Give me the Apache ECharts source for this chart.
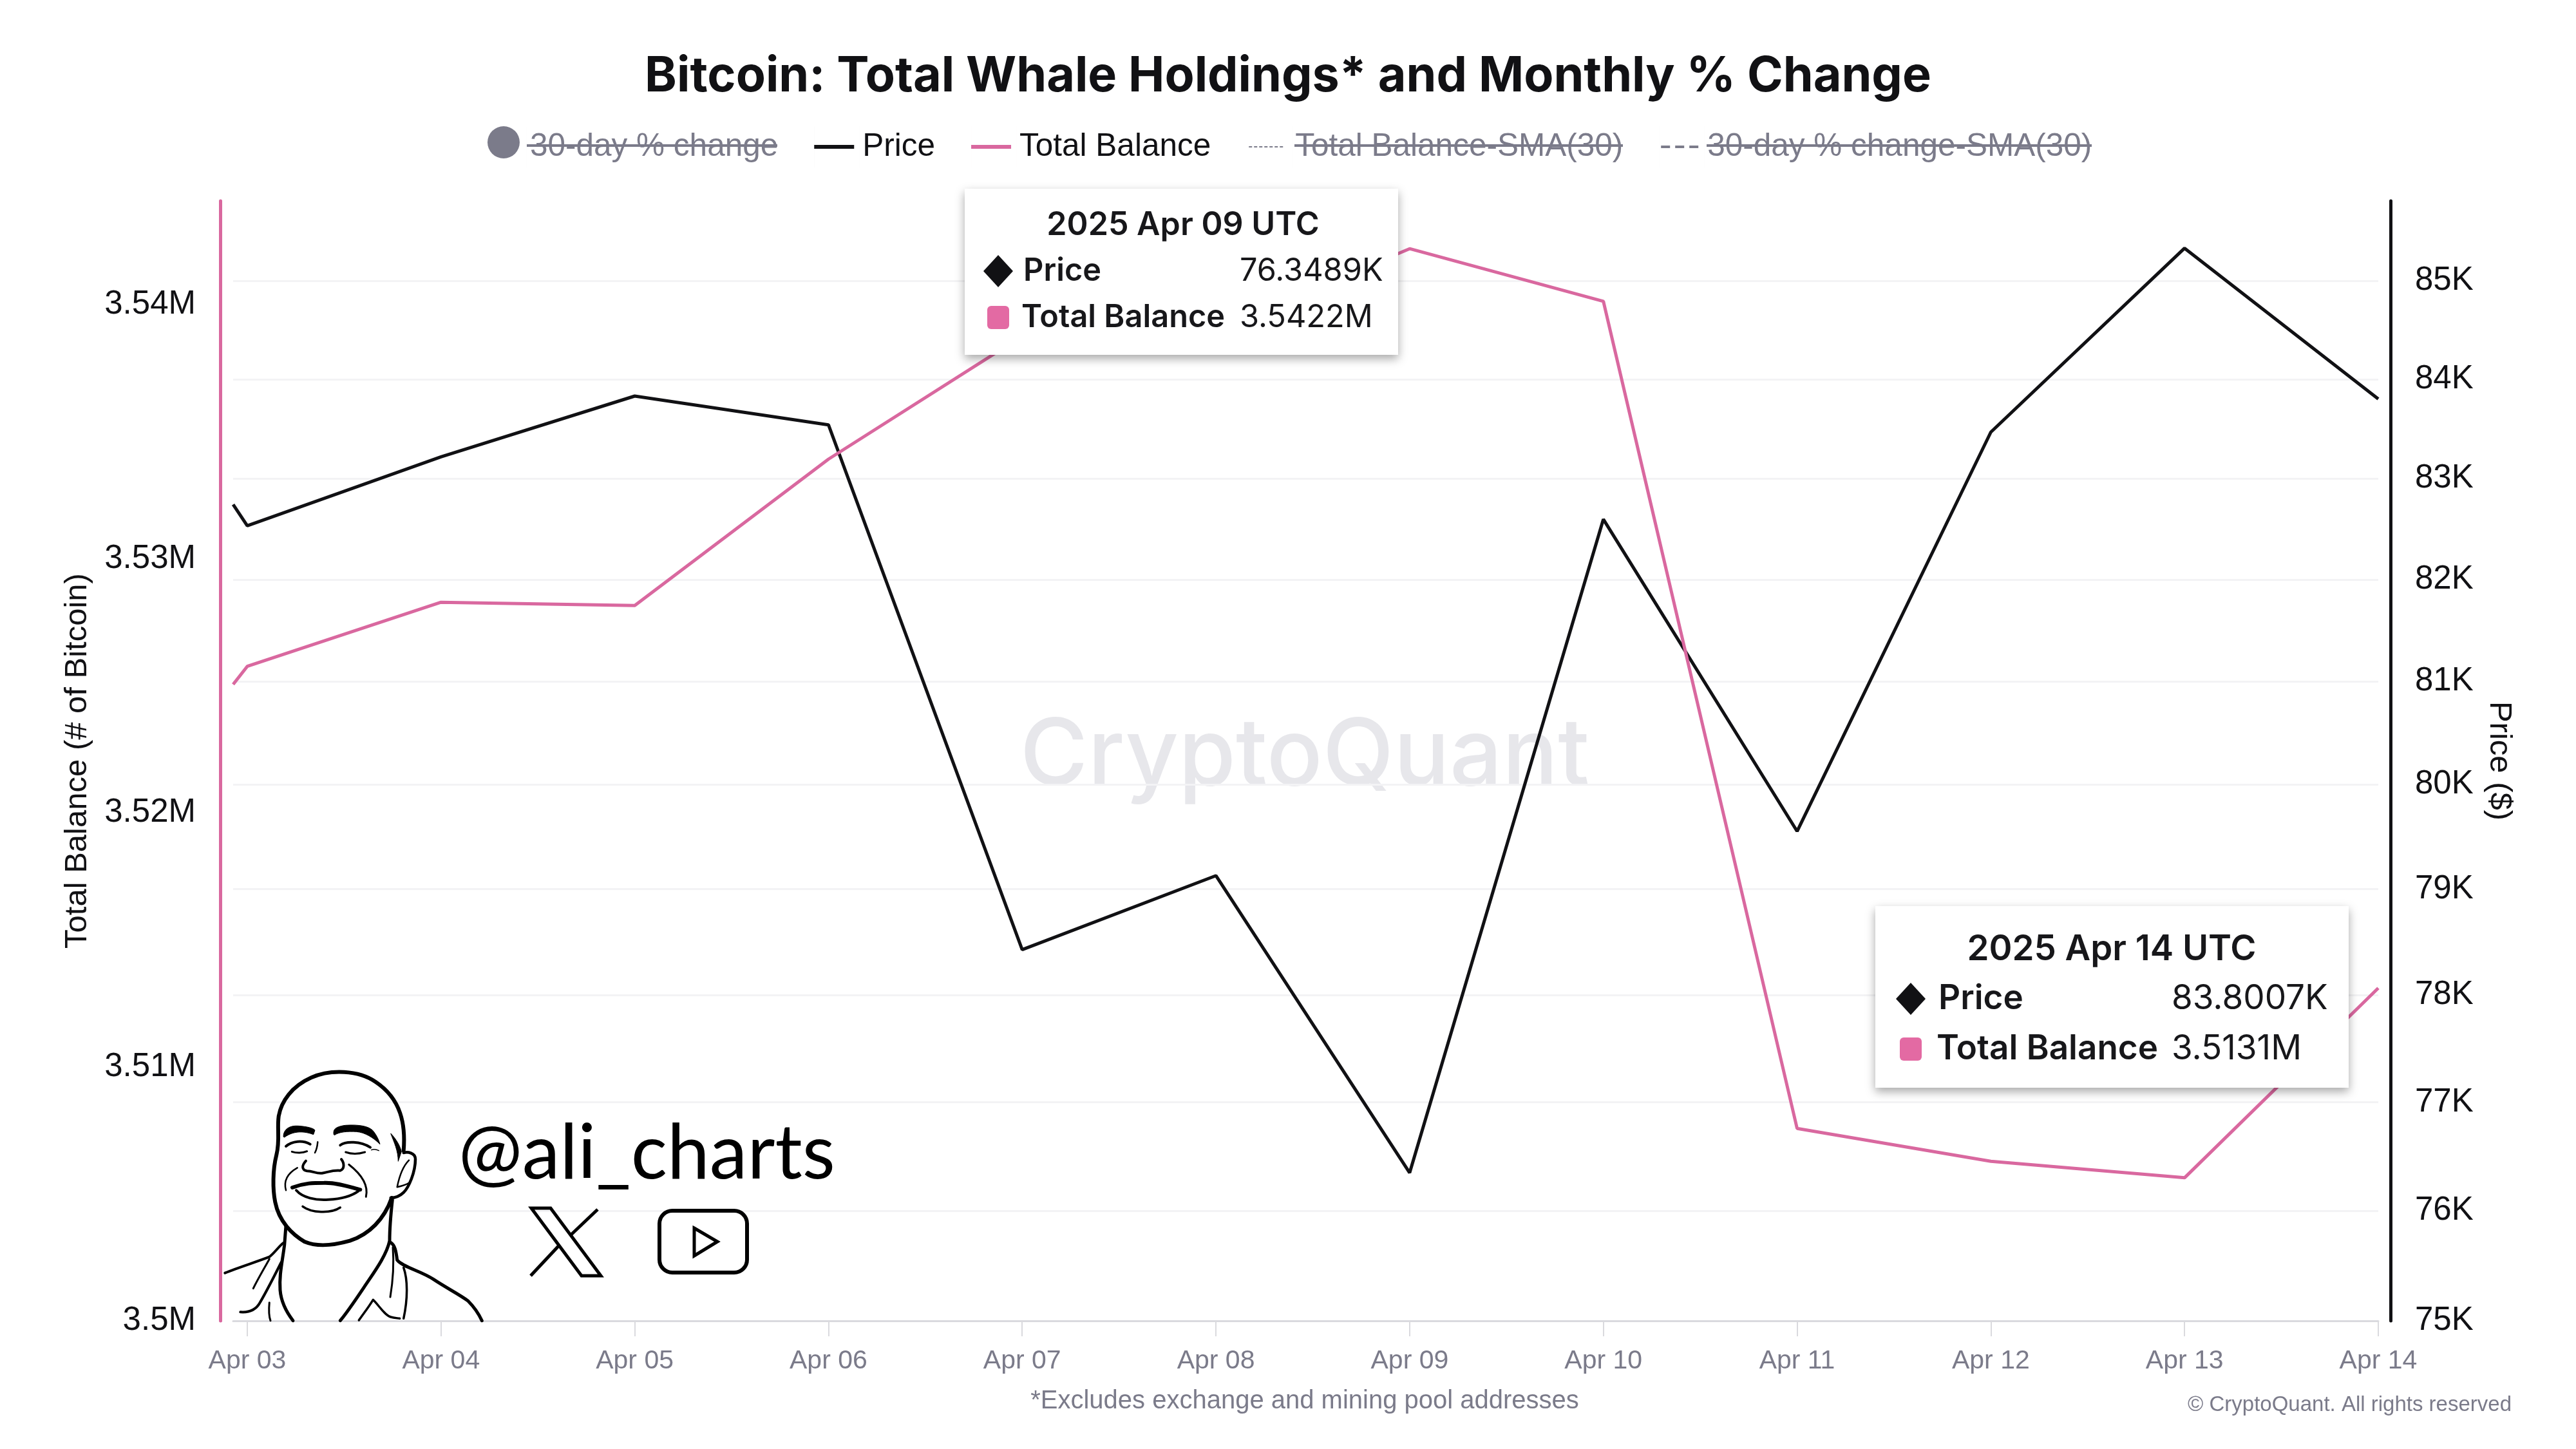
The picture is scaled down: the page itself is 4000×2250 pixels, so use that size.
<!DOCTYPE html>
<html>
<head>
<meta charset="utf-8">
<title>Bitcoin: Total Whale Holdings</title>
<style>
    html, body { margin: 0; padding: 0; background: #fff; }
    #chart { width: 4000px; height: 2250px; }
</style>
<script src="https://cdn.jsdelivr.net/npm/echarts@6/dist/echarts.min.js"></script>
</head>
<body>
<div id="chart"></div>
<script>
// data, x is days since Apr 03, first point is the partial one left of the Apr 03 tick
var days = [-0.073, 0, 1, 2, 3, 4, 5, 6, 7, 8, 9, 10, 11];
var price = [82743, 82531, 83219, 83830, 83540, 78427, 79128, 76348.9, 82596, 79552, 83467, 85335, 83800.7];
var totalBalance = [3525049, 3525761, 3528285, 3528155, 3533916, 3538760, 3539000, 3542200, 3540129, 3507573, 3506278, 3505631, 3513100];

var dayTicks = [0, 1, 2, 3, 4, 5, 6, 7, 8, 9, 10, 11];
var dayLabels = ['Apr 03', 'Apr 04', 'Apr 05', 'Apr 06', 'Apr 07', 'Apr 08', 'Apr 09', 'Apr 10', 'Apr 11', 'Apr 12', 'Apr 13', 'Apr 14'];
var balanceTicks = [3500000, 3510000, 3520000, 3530000, 3540000];
var priceTicks = [75000, 76000, 77000, 78000, 79000, 80000, 81000, 82000, 83000, 84000, 85000];

var SANS = '"Liberation Sans", Arial, sans-serif';
var PINK = '#d9689f';
var BLACK = '#111114';
var GREY = '#7b7b8a';

// legend icons sit in a 70x64 box, the last sub path only stretches the box
var ICON_BOX = ' M0 0H0.01V64H0Z M70 0H70.01V64H70Z';
var ICON_SOLID = 'path://M0 29H62V35H0Z' + ICON_BOX;
var ICON_DOT = 'path://M3 31H8V33H3Z M11 31H16V33H11Z M19 31H24V33H19Z M27 31H32V33H27Z M35 31H40V33H35Z M43 31H48V33H43Z M51 31H56V33H51Z' + ICON_BOX;
var ICON_DASH = 'path://M3 30H17V34H3Z M25 30H39V34H25Z M47 30H61V34H47Z' + ICON_BOX;
var ICON_CIRCLE = 'path://M9 25 A25 25 0 1 1 59 25 A25 25 0 1 1 9 25 Z' + ICON_BOX;

function pairs(values) {
    return days.map(function (d, i) { return [d, values[i]]; });
}

function fromCrop(d) {
    var i = 0;
    return d.replace(/\d+(\.\d+)?/g, function (n) {
        i++;
        return i % 2 ? (340 + n / 3).toFixed(1) : (1640 + n / 3).toFixed(1);
    });
}

// the graphic component has no plain path type, so each stroke gets its own shape class
var inkCount = 0;
function inkShape(d) {
    var name = 'ink' + (inkCount++);
    echarts.graphic.registerShape(name, echarts.graphic.extendPath(fromCrop(d), {}));
    return name;
}

function inkLine(d, width) {
    return { type: inkShape(d), z: 20, style: { fill: null, stroke: '#000', lineWidth: width, lineCap: 'round', lineJoin: 'round' } };
}

function inkFill(d) {
    return { type: inkShape(d), z: 20, style: { fill: '#000', stroke: '#000', lineWidth: 1 } };
}

var face = [
    inkLine('M 860 440 C 870 320 850 200 730 120 C 650 65 520 60 430 100 C 340 140 290 210 278 280 C 270 340 285 390 268 460 C 250 530 250 620 262 680 C 280 770 340 830 400 865 C 460 890 540 880 610 860 C 700 830 770 760 805 660', 6),
    inkFill('M 300 375 C 300 340 330 322 370 325 C 410 328 440 335 447 345 L 440 365 C 400 350 350 345 305 378 Z'),
    inkFill('M 535 365 C 530 340 545 328 590 322 C 650 318 700 325 720 350 C 735 370 745 390 750 410 C 720 380 680 355 640 352 C 600 350 560 352 538 368 Z'),
    inkLine('M 312 420 C 340 395 390 390 425 410', 4),
    inkLine('M 340 445 C 360 452 390 452 410 443', 3),
    inkLine('M 565 415 C 590 395 660 395 705 425', 4),
    inkLine('M 590 447 C 615 456 650 456 680 447', 3),
    inkLine('M 710 437 C 720 432 735 435 745 440', 1.5),
    inkLine('M 460 400 C 458 420 455 435 447 450', 2.5),
    inkLine('M 405 488 C 385 510 385 530 410 535 C 440 535 450 548 480 545 C 510 540 530 530 565 533 C 585 525 585 500 570 480', 4),
    inkLine('M 365 520 C 320 545 300 580 312 625', 2.5),
    inkLine('M 605 505 C 650 540 700 590 685 655', 3),
    inkLine('M 342 612 C 400 590 440 590 490 590 C 550 588 610 610 658 622', 6),
    inkLine('M 360 625 C 390 660 450 672 510 668 C 570 665 620 650 650 628', 4),
    inkLine('M 390 700 C 430 730 520 735 565 705', 3.5),
    inkLine('M 860 450 C 880 445 915 450 915 480 C 915 540 885 610 860 635 C 840 655 815 660 800 660', 4.5),
    inkLine('M 885 485 C 860 510 840 560 830 610 C 850 605 870 600 885 590', 2.5),
    inkFill('M 800 360 C 825 385 845 420 850 445 L 835 490 C 835 440 815 400 800 360 Z'),
    inkLine('M 312 790 L 305 880 C 295 960 280 1020 285 1090 C 290 1150 320 1200 345 1232', 5),
    inkLine('M 808 670 C 800 740 795 800 795 860 C 780 930 720 1010 680 1070 C 640 1130 600 1190 565 1232', 5),
    inkLine('M 28 1010 C 90 985 170 960 235 935 C 260 915 280 885 300 870', 4),
    inkLine('M 235 945 C 210 990 180 1040 160 1082', 3),
    inkLine('M 290 960 C 260 1020 225 1090 190 1150 C 170 1185 140 1195 100 1192', 4),
    inkLine('M 235 1148 C 232 1180 232 1210 240 1232', 3),
    inkLine('M 800 868 C 820 880 825 910 830 950 C 860 985 940 1000 1000 1040 C 1060 1080 1120 1110 1160 1140 C 1190 1170 1210 1200 1225 1232', 5),
    inkLine('M 810 890 C 815 960 810 1050 798 1122', 3),
    inkLine('M 860 985 C 880 1040 880 1130 860 1222', 3.5),
    inkLine('M 652 1230 C 680 1190 700 1165 718 1135 C 745 1160 770 1205 800 1215 C 815 1220 830 1220 842 1222', 3.5)
];

var socialIcons = [
    { type: 'polygon', z: 20, shape: { points: [[825, 1876], [855, 1876], [933, 1981], [903, 1981]] }, style: { fill: null, stroke: '#000', lineWidth: 5 } },
    { type: 'line', z: 20, shape: { x1: 928, y1: 1878, x2: 887, y2: 1917 }, style: { stroke: '#000', lineWidth: 5 } },
    { type: 'line', z: 20, shape: { x1: 868, y1: 1934, x2: 824, y2: 1981 }, style: { stroke: '#000', lineWidth: 5 } },
    { type: 'rect', z: 20, shape: { x: 1024, y: 1880, width: 136, height: 96, r: 20 }, style: { fill: null, stroke: '#000', lineWidth: 6 } },
    { type: 'polygon', z: 20, shape: { points: [[1078, 1907], [1114, 1928], [1078, 1950]] }, style: { fill: null, stroke: '#000', lineWidth: 5 } }
];

function tipText(text, x, y, font, align) {
    return { type: 'text', z: 101, x: x, y: y, style: { text: text, font: font, fill: '#17171a', textAlign: align || 'left', textVerticalAlign: 'middle' } };
}

// the two pinned tooltips of the original
function pinnedTip(index, title, box, size, pos) {
    var head = '600 ' + (size * 1.03) + 'px Inter, sans-serif';
    var bold = '600 ' + size + 'px Inter, sans-serif';
    var regular = '400 ' + size + 'px Inter, sans-serif';
    return [
        { type: 'rect', z: 100, shape: { x: box.x, y: box.y, width: box.w, height: box.h }, style: { fill: '#fff', shadowBlur: 14, shadowColor: 'rgba(0,0,0,0.35)', shadowOffsetY: 6 } },
        tipText(title, pos.titleX, pos.titleY, head, 'center'),
        { type: 'polygon', z: 101, shape: { points: [[pos.markX, pos.priceY - 25], [pos.markX + 23, pos.priceY], [pos.markX, pos.priceY + 25], [pos.markX - 23, pos.priceY]] }, style: { fill: BLACK } },
        tipText('Price', pos.labelX, pos.priceY, bold),
        tipText((price[index] / 1000).toFixed(4) + 'K', pos.valueX, pos.priceY, regular),
        { type: 'rect', z: 101, shape: { x: pos.markX - 17, y: pos.balanceY - 18, width: 34, height: 36, r: 6 }, style: { fill: '#e36aa3' } },
        tipText('Total Balance', pos.labelX - 3, pos.balanceY, bold),
        tipText((totalBalance[index] / 1000000).toFixed(4) + 'M', pos.valueX, pos.balanceY, regular)
    ];
}

function strike(x1, x2) {
    return { type: 'line', z: 30, shape: { x1: x1, y1: 226, x2: x2, y2: 226 }, style: { stroke: GREY, lineWidth: 4 } };
}

var overlays = [
    { type: 'text', z: 0, x: 2026, y: 1176, style: { text: 'CryptoQuant', font: '500 144px Inter, sans-serif', fill: '#e7e7eb', textAlign: 'center', textVerticalAlign: 'middle' } },
    { type: 'text', z: 20, x: 712, y: 1792, style: { text: '@ali_charts', font: '400 118px Lato, sans-serif', fill: '#000', textAlign: 'left', textVerticalAlign: 'middle' } },
    strike(818, 1207),
    strike(2010, 2520),
    strike(2650, 3248),
    { type: 'text', x: 2026, y: 2176, style: { text: '*Excludes exchange and mining pool addresses', font: '40px ' + SANS, fill: GREY, textAlign: 'center', textVerticalAlign: 'middle' } },
    { type: 'text', x: 3900, y: 2182, style: { text: '© CryptoQuant. All rights reserved', font: '33px ' + SANS, fill: GREY, textAlign: 'right', textVerticalAlign: 'middle' } }
].concat(face, socialIcons,
    pinnedTip(7, '2025 Apr 09 UTC', { x: 1498, y: 293, w: 673, h: 258 }, 48.7,
        { titleX: 1837, titleY: 350, markX: 1550, labelX: 1589, valueX: 1925, priceY: 421, balanceY: 493 }),
    pinnedTip(12, '2025 Apr 14 UTC', { x: 2912, y: 1407, w: 735, h: 282 }, 53,
        { titleX: 3279, titleY: 1475, markX: 2967, labelX: 3010, valueX: 3372, priceY: 1551, balanceY: 1629 }));

var option = {
    animation: false,
    backgroundColor: '#fff',
    title: {
        text: 'Bitcoin: Total Whale Holdings* and Monthly % Change',
        left: 'center',
        top: 77,
        textStyle: { fontFamily: 'Inter, sans-serif', fontWeight: 700, fontSize: 75.4, color: '#111114' }
    },
    legend: {
        left: 743,
        top: 191,
        itemGap: 56,
        itemWidth: 70,
        itemHeight: 64,
        inactiveColor: GREY,
        textStyle: { fontFamily: SANS, fontSize: 49.5, color: '#111114' },
        selected: { '30-day % change': false, 'Total Balance-SMA(30)': false, '30-day % change-SMA(30)': false },
        data: [
            { name: '30-day % change', icon: ICON_CIRCLE },
            { name: 'Price', icon: ICON_SOLID },
            { name: 'Total Balance', icon: ICON_SOLID },
            { name: 'Total Balance-SMA(30)', icon: ICON_DOT },
            { name: '30-day % change-SMA(30)', icon: ICON_DASH }
        ]
    },
    grid: { left: 362, right: 307, top: 312, bottom: 199 },
    xAxis: {
        type: 'value',
        min: days[0],
        max: days[days.length - 1],
        axisLine: { onZero: false, lineStyle: { color: '#dadade', width: 3 } },
        axisTick: { show: true, length: 24, customValues: dayTicks, lineStyle: { color: '#dadade', width: 2 } },
        axisLabel: {
            customValues: dayTicks,
            margin: 42,
            fontFamily: SANS,
            fontSize: 41,
            color: GREY,
            formatter: function (value) { return dayLabels[value]; }
        },
        splitLine: { show: false }
    },
    yAxis: [{
        type: 'value',
        position: 'left',
        offset: 20,
        min: 3500000,
        max: 3544081,
        name: 'Total Balance (# of Bitcoin)',
        nameLocation: 'middle',
        nameGap: 197,
        nameTextStyle: { fontFamily: SANS, fontSize: 49, color: BLACK },
        axisLine: { show: true, onZero: false, lineStyle: { color: PINK, width: 5 } },
        axisTick: { show: false, customValues: balanceTicks },
        axisLabel: {
            customValues: balanceTicks,
            margin: 38,
            fontFamily: SANS,
            fontSize: 51,
            color: BLACK,
            formatter: function (value) { return parseFloat((value / 1000000).toFixed(2)) + 'M'; }
        },
        splitLine: { show: false }
    }, {
        type: 'log',
        logBase: 10,
        position: 'right',
        offset: 19,
        min: 75000,
        max: 85822,
        name: 'Price ($)',
        nameLocation: 'middle',
        nameGap: 144,
        nameRotate: -90,
        nameTextStyle: { fontFamily: SANS, fontSize: 49, color: BLACK },
        axisLine: { show: true, onZero: false, lineStyle: { color: BLACK, width: 5 } },
        axisTick: { show: false, customValues: priceTicks },
        axisLabel: {
            customValues: priceTicks,
            margin: 38,
            fontFamily: SANS,
            fontSize: 51,
            color: BLACK,
            formatter: function (value) { return Math.round(value / 1000) + 'K'; }
        },
        splitLine: { show: true, lineStyle: { color: '#f3f3f5', width: 3 } }
    }],
    series: [
        { name: '30-day % change', type: 'line', yAxisIndex: 0, data: [], itemStyle: { color: GREY } },
        { name: 'Price', type: 'line', yAxisIndex: 1, z: 5, symbol: 'none', data: pairs(price), itemStyle: { color: BLACK }, lineStyle: { color: BLACK, width: 5 } },
        { name: 'Total Balance', type: 'line', yAxisIndex: 0, z: 6, symbol: 'none', data: pairs(totalBalance), itemStyle: { color: PINK }, lineStyle: { color: PINK, width: 5 } },
        { name: 'Total Balance-SMA(30)', type: 'line', yAxisIndex: 0, data: [], itemStyle: { color: GREY } },
        { name: '30-day % change-SMA(30)', type: 'line', yAxisIndex: 0, data: [], itemStyle: { color: GREY } }
    ],
    graphic: { elements: overlays }
};

var myChart = echarts.init(document.getElementById('chart'));
myChart.setOption(option);
</script>
</body>
</html>
